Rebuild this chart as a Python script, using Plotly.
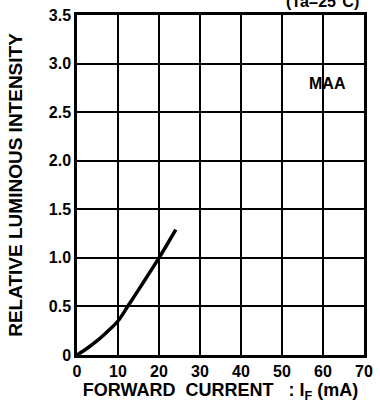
import plotly.graph_objects as go

# Relative luminous intensity vs forward current (MAA)
current_ma = [0, 2.5, 5, 7.5, 10, 12.5, 15, 17.5, 20, 22, 24.1]
rel_intensity = [0, 0.07, 0.15, 0.245, 0.35, 0.51, 0.67, 0.835, 1.0, 1.14, 1.29]

x_ticks = [0, 10, 20, 30, 40, 50, 60, 70]
y_ticks = [0, 0.5, 1.0, 1.5, 2.0, 2.5, 3.0, 3.5]
y_tick_text = ["0", "0.5", "1.0", "1.5", "2.0", "2.5", "3.0", "3.5"]

FONT = "Liberation Sans"

fig = go.Figure()
fig.add_trace(go.Scatter(
    x=current_ma, y=rel_intensity, mode="lines",
    line=dict(color="black", width=3.5, shape="spline", smoothing=1.0),
    showlegend=False, hoverinfo="skip",
))

fig.add_annotation(x=61, y=2.8, xref="x", yref="y", text="<b>MAA</b>",
                   showarrow=False, font=dict(family=FONT, size=16, color="black"))
fig.add_annotation(x=0.99, y=1, xref="paper", yref="paper", text="<b>(Ta=25°C)</b>",
                   showarrow=False, xanchor="right", yanchor="bottom", yshift=3,
                   font=dict(family=FONT, size=16, color="black"))

axis_common = dict(
    showgrid=True, gridcolor="black", gridwidth=2,
    showline=True, linecolor="black", linewidth=2.5, mirror=True,
    zeroline=False, ticks="", fixedrange=True,
    tickfont=dict(family=FONT, size=16, color="black"),
)

fig.update_xaxes(range=[0, 70], tickvals=x_ticks,
                 ticktext=["<b>%d</b>" % v for v in x_ticks],
                 title=dict(text="<b>FORWARD  CURRENT   : I<sub>F</sub> (mA)</b>",
                            font=dict(family=FONT, size=18, color="black"), standoff=4),
                 **axis_common)
fig.update_yaxes(range=[0, 3.5], tickvals=y_ticks,
                 ticktext=["<b>" + t + "</b>" for t in y_tick_text],
                 title=dict(text="<b>RELATIVE LUMINOUS INTENSITY</b>",
                            font=dict(family=FONT, size=19, color="black"), standoff=22),
                 **axis_common)

fig.update_layout(
    width=380, height=413,
    margin=dict(l=77, r=12, t=7, b=58),
    paper_bgcolor="white", plot_bgcolor="white",
)

fig.write_html("out.html")
